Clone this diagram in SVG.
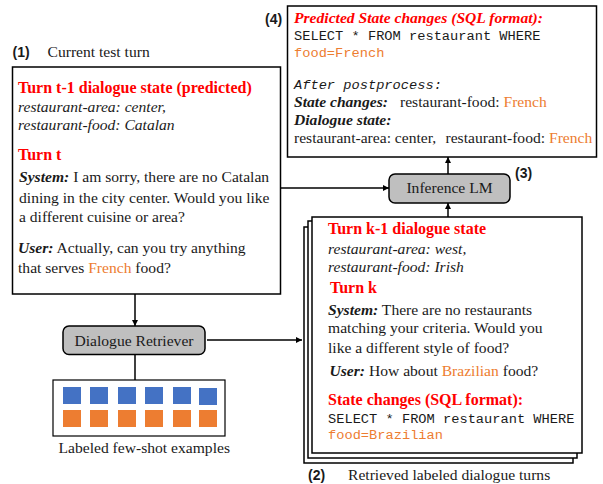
<svg xmlns="http://www.w3.org/2000/svg" width="603" height="484" viewBox="0 0 603 484">
<defs>
<marker id="ah" viewBox="0 0 10 10" refX="10" refY="5" markerWidth="6" markerHeight="6" markerUnits="userSpaceOnUse" orient="auto">
<path d="M0,0 L10,5 L0,10 z" fill="#000"/>
</marker>
<style>
.box{fill:#fff;stroke:#000;stroke-width:1.5}
.proc{fill:#bfbfbf;stroke:#000;stroke-width:1.5}
.t{font-family:"Liberation Serif","Times New Roman",serif;font-size:15.6px;fill:#1a1a1a}
.red{fill:#ff0000;font-weight:bold;font-size:16px}
.it{font-style:italic}
.bi{font-style:italic;font-weight:bold}
.m{font-family:"Liberation Mono","Courier New",monospace;font-size:13.7px;fill:#1a1a1a}
.lab{font-family:"Liberation Sans",Arial,sans-serif;font-size:14px;font-weight:bold;fill:#1a1a1a}
.conn{stroke:#000;stroke-width:1.5;fill:none}
.bl{fill:#4472c4}
.orf{fill:#ed7d31}
.or{fill:#ed7d31}
</style>
</defs>

<g id="current-turn">
<text class="lab" x="12.5" y="57">(1)</text>
<text class="t" x="47.5" y="57">Current test turn</text>
<rect class="box" x="12.5" y="67" width="268" height="227"/>
<text class="t red" x="18" y="93">Turn  t-1 dialogue state (predicted)</text>
<text class="t it" x="18" y="111.7">restaurant-area: center,</text>
<text class="t it" x="18" y="130">restaurant-food: Catalan</text>
<text class="t red" x="18" y="160">Turn  t</text>
<text class="t" x="19" y="182.3"><tspan class="bi">System:</tspan> I am sorry, there are no Catalan</text>
<text class="t" x="19" y="202.7">dining in the city center. Would you like</text>
<text class="t" x="19" y="221.7">a different cuisine or area?</text>
<text class="t" x="18" y="253.3"><tspan class="bi">User:</tspan> Actually, can you try anything</text>
<text class="t" x="18" y="273.3">that serves <tspan class="or">French</tspan> food?</text>
</g>

<g id="output">
<text class="lab" x="265" y="24">(4)</text>
<rect class="box" x="287.5" y="6" width="309" height="151"/>
<text class="t bi" x="294" y="22.7" style="fill:#ff0000">Predicted State changes (SQL format):</text>
<text class="m" x="294" y="40">SELECT * FROM restaurant WHERE</text>
<text class="m or" x="294" y="56.7">food=French</text>
<text class="m it" x="294" y="89.3">After postprocess:</text>
<text class="t bi" x="294" y="106.7">State changes:</text>
<text class="t" x="400" y="106.7">restaurant-food: <tspan class="or">French</tspan></text>
<text class="t bi" x="294" y="125">Dialogue state:</text>
<text class="t" x="294" y="143.3">restaurant-area: center,</text>
<text class="t" x="445.5" y="143.3">restaurant-food: <tspan class="or">French</tspan></text>
</g>

<g id="inference-lm">
<rect class="proc" x="389" y="174" width="121" height="29" rx="6"/>
<text class="t" x="449.5" y="193" text-anchor="middle">Inference LM</text>
<text class="lab" x="515" y="178">(3)</text>
</g>

<g id="retrieved-turns">
<rect class="box" x="304" y="227" width="269" height="236"/>
<rect class="box" x="308" y="221" width="269" height="237"/>
<rect class="box" x="312" y="217" width="270" height="236"/>
<text class="t red" x="328" y="234">Turn  k-1 dialogue state</text>
<text class="t it" x="328" y="254">restaurant-area: west,</text>
<text class="t it" x="328" y="271.7">restaurant-food: Irish</text>
<text class="t red" x="330" y="293.3">Turn  k</text>
<text class="t" x="328" y="315"><tspan class="bi">System:</tspan> There are no restaurants</text>
<text class="t" x="328" y="333.3">matching your criteria. Would you</text>
<text class="t" x="328" y="352.7">like a different style of food?</text>
<text class="t" x="329.5" y="376"><tspan class="bi">User:</tspan> How about <tspan class="or">Brazilian</tspan> food?</text>
<text class="t red" x="328" y="405">State changes (SQL format):</text>
<text class="m" x="328" y="423.3">SELECT * FROM restaurant WHERE</text>
<text class="m or" x="328" y="439.3">food=Brazilian</text>
<text class="lab" x="308" y="480">(2)</text>
<text class="t" x="348" y="480">Retrieved labeled dialogue turns</text>
</g>

<g id="dialogue-retriever">
<rect class="proc" x="63" y="326" width="142" height="28.5" rx="6"/>
<text class="t" x="134" y="345.5" text-anchor="middle">Dialogue Retriever</text>
</g>

<g id="examples">
<rect class="box" x="53" y="380" width="172" height="56" style="stroke-width:1.2"/>
<rect class="bl" x="63" y="387" width="18" height="17"/>
<rect class="bl" x="90" y="387" width="18" height="17"/>
<rect class="bl" x="118" y="387" width="18" height="17"/>
<rect class="bl" x="145" y="387" width="18" height="17"/>
<rect class="bl" x="173" y="387" width="18" height="17"/>
<rect class="bl" x="199" y="388" width="18" height="17"/>
<rect class="orf" x="63" y="410" width="18" height="17"/>
<rect class="orf" x="90" y="410" width="18" height="17"/>
<rect class="orf" x="118" y="410" width="18" height="17"/>
<rect class="orf" x="145" y="410" width="18" height="17"/>
<rect class="orf" x="173" y="410" width="18" height="17"/>
<rect class="orf" x="199" y="410" width="18" height="17"/>
<text class="t" x="58.5" y="453">Labeled few-shot examples</text>
</g>

<g id="connectors">
<path class="conn" d="M280.5,188 H389" marker-end="url(#ah)"/>
<path class="conn" d="M448,174 V157" marker-end="url(#ah)"/>
<path class="conn" d="M448,217 V203" marker-end="url(#ah)"/>
<path class="conn" d="M135,294 V326" marker-end="url(#ah)"/>
<path class="conn" d="M207,340 H302" marker-end="url(#ah)"/>
<path class="conn" d="M135,354.5 V380"/>
</g>
</svg>
